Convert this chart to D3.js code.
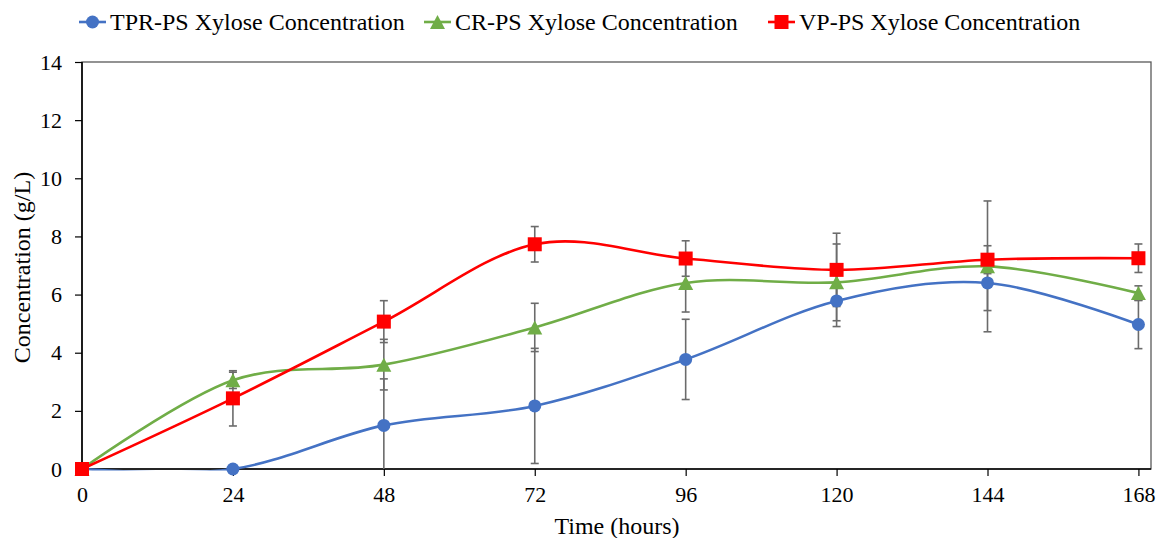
<!DOCTYPE html>
<html>
<head>
<meta charset="utf-8">
<script src="https://cdn.jsdelivr.net/npm/d3@7"></script>
<style>
  html, body { margin: 0; padding: 0; background: #fff; }
  svg { display: block; }
</style>
</head>
<body>
<svg id="chart" width="1159" height="538"></svg>
<script>
// Sampling times (hours)
const hours = [0, 24, 48, 72, 96, 120, 144, 168];

// Xylose concentration (g/L) and standard deviations per pretreatment
const tprValues = [0, 0, 1.5, 2.17, 3.77, 5.78, 6.4, 4.97];
const tprErrors = [0, 0, 1.6, 1.98, 1.38, 0.88, 0.95, 0.83];

const crValues = [0, 3.05, 3.59, 4.87, 6.4, 6.42, 6.97, 6.05];
const crErrors = [0, 0.28, 0.87, 0.83, 1.0, 1.32, 2.25, 0.25];

const vpValues = [0, 2.43, 5.07, 7.73, 7.24, 6.85, 7.2, 7.25];
const vpErrors = [0, 0.95, 0.72, 0.61, 0.61, 1.26, 0.48, 0.49];

const seriesNames = ["TPR-PS Xylose Concentration", "CR-PS Xylose Concentration", "VP-PS Xylose Concentration"];
const xTicks = [0, 24, 48, 72, 96, 120, 144, 168];
const yTicks = [0, 2, 4, 6, 8, 10, 12, 14];

const series = [
  { name: seriesNames[0], values: tprValues, errors: tprErrors, color: "#4472C4", marker: "circle" },
  { name: seriesNames[1], values: crValues, errors: crErrors, color: "#70AD47", marker: "triangle" },
  { name: seriesNames[2], values: vpValues, errors: vpErrors, color: "#FF0000", marker: "square" }
];

const FONT = '"Times New Roman", "Liberation Serif", serif';
const TICK_SIZE = "22px";
const LABEL_SIZE = "24px";

const svg = d3.select("#chart").attr("font-family", FONT);
const plotLeft = 82, plotRight = 1151, plotTop = 62, plotBottom = 469;

const x = d3.scaleLinear().domain([0, 170]).range([plotLeft, plotRight]);
const y = d3.scaleLinear().domain([0, 14]).range([plotBottom, plotTop]);

svg.append("defs").append("clipPath").attr("id", "plot-clip")
  .append("rect")
  .attr("x", plotLeft - 2).attr("y", plotTop - 10)
  .attr("width", plotRight - plotLeft + 12).attr("height", plotBottom - plotTop + 11.4);

// Plot frame
svg.append("rect")
  .attr("x", plotLeft).attr("y", plotTop)
  .attr("width", plotRight - plotLeft).attr("height", plotBottom - plotTop)
  .attr("fill", "none").attr("stroke", "#595959").attr("stroke-width", 1.3);

// Axes
const yAxis = d3.axisLeft(y).tickValues(yTicks).tickSize(7).tickPadding(13).tickFormat(d3.format("d"));
const xAxis = d3.axisBottom(x).tickValues(xTicks).tickSize(7).tickPadding(10).tickFormat(d3.format("d"));

const gy = svg.append("g").attr("transform", `translate(${plotLeft},0)`).call(yAxis);
const gx = svg.append("g").attr("transform", `translate(0,${plotBottom})`).call(xAxis);
[gx, gy].forEach(g => {
  g.attr("font-family", FONT).attr("font-size", TICK_SIZE);
  g.select(".domain").attr("stroke", "#000").attr("stroke-width", 1.6);
  g.selectAll(".tick line").attr("stroke", "#000").attr("stroke-width", 1.2);
  g.selectAll(".tick text").attr("fill", "#000");
});
gy.select(".domain").attr("d", `M0,${plotTop}V${plotBottom}`);
gx.select(".domain").attr("d", `M${plotLeft},0H${plotRight}`);

// Axis titles
svg.append("text")
  .attr("x", 617).attr("y", 534)
  .attr("text-anchor", "middle")
  .attr("font-size", LABEL_SIZE)
  .text("Time (hours)");
svg.append("text")
  .attr("transform", `translate(30,${(plotTop + plotBottom) / 2 + 2}) rotate(-90)`)
  .attr("text-anchor", "middle")
  .attr("font-size", LABEL_SIZE)
  .text("Concentration (g/L)");

// Marker drawing
function drawMarker(g, type, cx, cy, color) {
  if (type === "circle") {
    g.append("circle").attr("cx", cx).attr("cy", cy).attr("r", 6.5).attr("fill", color);
  } else if (type === "square") {
    g.append("rect").attr("x", cx - 7).attr("y", cy - 7).attr("width", 14).attr("height", 14).attr("fill", color);
  } else {
    const w = 15, h = 14;
    g.append("path")
      .attr("d", `M${cx},${cy - h / 2}L${cx + w / 2},${cy + h / 2}L${cx - w / 2},${cy + h / 2}Z`)
      .attr("fill", color);
  }
}

// Error bars
const errG = svg.append("g");
series.forEach(s => {
  hours.forEach((h, i) => {
    const e = s.errors[i];
    if (!e) return;
    const cx = x(h);
    const y1 = y(Math.min(14, s.values[i] + e));
    const y0 = y(Math.max(0, s.values[i] - e));
    errG.append("line").attr("x1", cx).attr("x2", cx).attr("y1", y1).attr("y2", y0)
      .attr("stroke", "#6b6b6b").attr("stroke-width", 1.6);
    errG.append("line").attr("x1", cx - 4).attr("x2", cx + 4).attr("y1", y1).attr("y2", y1)
      .attr("stroke", "#6b6b6b").attr("stroke-width", 1.6);
    if (s.values[i] - e >= 0) {
      errG.append("line").attr("x1", cx - 4).attr("x2", cx + 4).attr("y1", y0).attr("y2", y0)
        .attr("stroke", "#6b6b6b").attr("stroke-width", 1.6);
    }
  });
});

// Smoothed lines, kept inside the plot area
const line = d3.line()
  .x(d => x(d[0])).y(d => y(d[1]))
  .curve(d3.curveCardinal.tension(0));

const lineG = svg.append("g").attr("clip-path", "url(#plot-clip)");
series.forEach(s => {
  lineG.append("path")
    .datum(hours.map((h, i) => [h, s.values[i]]))
    .attr("d", line)
    .attr("fill", "none")
    .attr("stroke", s.color)
    .attr("stroke-width", 2.6);
});

// Markers
series.forEach(s => {
  const g = svg.append("g");
  hours.forEach((h, i) => drawMarker(g, s.marker, x(h), y(s.values[i]), s.color));
});

// Legend
const legendX = [79, 424, 768];
series.forEach((s, i) => {
  const g = svg.append("g");
  const lx = legendX[i];
  g.append("line").attr("x1", lx).attr("x2", lx + 27).attr("y1", 22).attr("y2", 22)
    .attr("stroke", s.color).attr("stroke-width", 2.6);
  drawMarker(g, s.marker, lx + 13.5, 22, s.color);
  g.append("text").attr("x", lx + 31).attr("y", 30)
    .attr("font-size", LABEL_SIZE)
    .text(s.name);
});
</script>
</body>
</html>
